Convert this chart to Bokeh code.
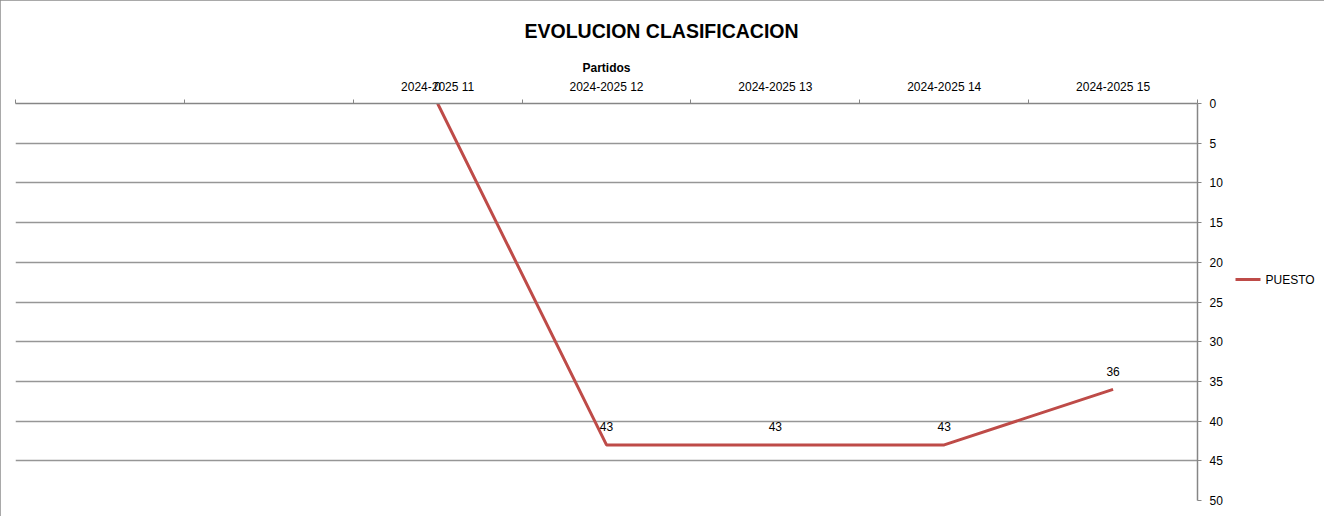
from bokeh.plotting import figure
from bokeh.models import Range1d, FixedTicker, LinearAxis
from bokeh.embed import file_html
from bokeh.resources import INLINE
from bokeh.core.properties import value

categories = ["", "", "2024-2025 11", "2024-2025 12", "2024-2025 13", "2024-2025 14", "2024-2025 15"]
puesto = [None, None, 0, 43, 43, 43, 36]
y_ticks = [0, 5, 10, 15, 20, 25, 30, 35, 40, 45, 50]
series_name = "PUESTO"

xs = [i + 0.5 for i, v in enumerate(puesto) if v is not None]
ys = [v for v in puesto if v is not None]

FONT = "Liberation Sans"
LINE_COLOR = "#be4b48"
Y_MIN, Y_MAX = 0, 50

p = figure(width=1324, height=516, output_backend="svg", toolbar_location=None,
           x_range=Range1d(0, len(categories)), y_range=Range1d(Y_MAX, Y_MIN),
           x_axis_location="above", y_axis_location="right",
           min_border_left=15, min_border_right=127, min_border_top=103, min_border_bottom=16,
           title="EVOLUCION CLASIFICACION")
p.styles = {"outline": "2px solid #8c8c8c", "outline-offset": "-2px"}

p.title.align = "left"
p.title.offset = 509
p.title.text_font = FONT
p.title.text_font_size = "19.5px"
p.title.text_font_style = "bold"
p.title.text_color = "#000000"
p.title.standoff = 32

p.outline_line_color = None
p.background_fill_color = "white"
p.border_fill_color = "white"

p.xgrid.visible = False
p.ygrid.ticker = FixedTicker(ticks=y_ticks)
p.ygrid.grid_line_color = "#969696"
p.ygrid.grid_line_width = 1.5

# data labels: the ones at the top edge sit in the category-label row (as in the reference)
edge_x = [x for x, y in zip(xs, ys) if y == Y_MIN]
edge_lab = [str(y) for y in ys if y == Y_MIN]
in_x = [x for x, y in zip(xs, ys) if y != Y_MIN]
in_y = [y for y in ys if y != Y_MIN]
in_lab = [str(y) for y in in_y]

cat_ticks = [i + 0.5 for i, c in enumerate(categories) if c]
overrides = {i + 0.5: c for i, c in enumerate(categories) if c}
edge_ticks = [x + 1e-7 for x in edge_x]
for t, lab in zip(edge_ticks, edge_lab):
    overrides[t] = lab

xa = p.xaxis[0]
xa.ticker = FixedTicker(ticks=cat_ticks + edge_ticks,
                        minor_ticks=list(range(len(categories) + 1)))
xa.major_label_overrides = overrides
xa.major_tick_out = 0
xa.major_tick_in = 0
xa.minor_tick_out = 4
xa.minor_tick_in = 0
xa.minor_tick_line_color = "#868686"
xa.axis_line_color = "#868686"
xa.axis_line_width = 1.5
xa.major_label_standoff = 6
xa.major_label_text_font = FONT
xa.major_label_text_font_size = "12px"
xa.major_label_text_color = "#000000"
xa.axis_label = "Partidos"
xa.axis_label_text_font = FONT
xa.axis_label_text_font_size = "12px"
xa.axis_label_text_font_style = "bold"
xa.axis_label_text_color = "#000000"
xa.axis_label_standoff = 2

ya = p.yaxis[0]
ya.ticker = FixedTicker(ticks=y_ticks)
ya.major_tick_out = 4
ya.major_tick_in = 0
ya.minor_tick_out = 0
ya.minor_tick_in = 0
ya.major_tick_line_color = "#868686"
ya.axis_line_color = "#868686"
ya.axis_line_width = 1.5
ya.major_label_standoff = 8
ya.major_label_text_font = FONT
ya.major_label_text_font_size = "12px"
ya.major_label_text_color = "#000000"

p.line(xs, ys, line_color=LINE_COLOR, line_width=3)

p.text(x=in_x, y=in_y, text=in_lab, text_align="center", text_baseline="middle",
       y_offset=-18, text_font=value(FONT), text_font_size="12px", text_color="#000000")

# legend key, drawn in the right margin (outside the plot frame)
LEG_Y = 22.17
leg = LinearAxis(ticker=FixedTicker(ticks=[LEG_Y]), major_label_overrides={LEG_Y: series_name})
leg.axis_line_color = None
leg.minor_tick_line_color = None
leg.major_tick_line_color = LINE_COLOR
leg.major_tick_line_width = 3
leg.major_tick_in = -10
leg.major_tick_out = 35
leg.major_label_standoff = 5
leg.major_label_text_font = FONT
leg.major_label_text_font_size = "12px"
leg.major_label_text_color = "#000000"
p.add_layout(leg, "right")

open("out.html", "w").write(file_html(p, INLINE))
